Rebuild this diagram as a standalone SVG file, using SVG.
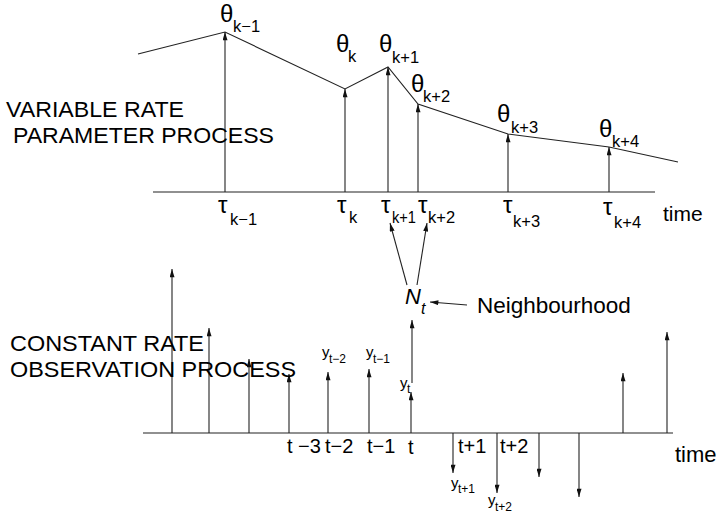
<svg xmlns="http://www.w3.org/2000/svg" width="719" height="515" viewBox="0 0 719 515">
<defs>
<marker id="ah" markerUnits="userSpaceOnUse" viewBox="0 0 10 6" refX="10" refY="3" markerWidth="9" markerHeight="5" orient="auto">
<path d="M0,0 L10,3 L0,6 z" fill="#111"/>
</marker>
</defs>
<style>
text{font-family:"Liberation Sans",Arial,sans-serif;fill:#000}
.big{font-size:22.5px}
.lab{font-size:21px}
.gr{font-size:24px}
.sub{font-size:16.5px}
.tl{font-size:20px}
.ys{font-size:15px}
.yss{font-size:12px}
.ln{stroke:#222;stroke-width:1.1;fill:none}
.ar{stroke:#222;stroke-width:1.1;fill:none;marker-end:url(#ah)}
</style>
<rect width="719" height="515" fill="#fff"/>

<g id="connectors">
<polyline class="ln" points="138,54 225,32 345,89 388,67 418,104 508,134 609,147 678,162"/>
<line class="ln" x1="153" y1="192" x2="655" y2="192"/>
<line class="ar" x1="225" y1="192" x2="225" y2="32"/>
<line class="ar" x1="345" y1="192" x2="345" y2="89"/>
<line class="ar" x1="388" y1="192" x2="388" y2="67"/>
<line class="ar" x1="418" y1="192" x2="418" y2="104"/>
<line class="ar" x1="508" y1="192" x2="508" y2="134"/>
<line class="ar" x1="609" y1="192" x2="609" y2="147"/>

<line class="ln" x1="143" y1="433" x2="673" y2="433"/>
<line class="ar" x1="172" y1="433" x2="172" y2="269"/>
<line class="ar" x1="209" y1="433" x2="209" y2="328"/>
<line class="ar" x1="249" y1="433" x2="249" y2="359"/>
<line class="ar" x1="289" y1="433" x2="289" y2="374"/>
<line class="ar" x1="328" y1="433" x2="328" y2="372"/>
<line class="ar" x1="369" y1="433" x2="369" y2="369"/>
<line class="ar" x1="411" y1="433" x2="411" y2="392"/>
<line class="ar" x1="623" y1="433" x2="623" y2="373"/>
<line class="ar" x1="667" y1="433" x2="667" y2="332"/>
<line class="ar" x1="453" y1="433" x2="453" y2="473"/>
<line class="ar" x1="497" y1="433" x2="497" y2="493"/>
<line class="ar" x1="539" y1="433" x2="539" y2="477"/>
<line class="ar" x1="579" y1="433" x2="579" y2="497"/>

<line class="ar" x1="412" y1="383" x2="412" y2="320"/>
<line class="ar" x1="407" y1="285" x2="390" y2="223"/>
<line class="ar" x1="417" y1="285" x2="427" y2="223"/>
<line class="ar" x1="467" y1="305" x2="430" y2="302"/>
</g>

<g id="title-variable">
<text class="big" x="6" y="117" textLength="178" lengthAdjust="spacingAndGlyphs">VARIABLE RATE</text>
<text class="big" x="13" y="143" textLength="261" lengthAdjust="spacingAndGlyphs">PARAMETER PROCESS</text>
</g>
<g id="title-constant">
<text class="big" x="10" y="351" textLength="194" lengthAdjust="spacingAndGlyphs">CONSTANT RATE</text>
<text class="big" x="10" y="377" textLength="286" lengthAdjust="spacingAndGlyphs">OBSERVATION PROCESS</text>
</g>

<g id="theta-labels">
<text class="gr" x="220" y="22">θ<tspan class="sub" x="233" y="32">k−1</tspan></text>
<text class="gr" x="336" y="52">θ<tspan class="sub" x="348" y="62">k</tspan></text>
<text class="gr" x="379" y="52">θ<tspan class="sub" x="392" y="63">k+1</tspan></text>
<text class="gr" x="411" y="92">θ<tspan class="sub" x="423" y="102">k+2</tspan></text>
<text class="gr" x="497" y="122">θ<tspan class="sub" x="511" y="133">k+3</tspan></text>
<text class="gr" x="599" y="137">θ<tspan class="sub" x="612" y="147">k+4</tspan></text>
</g>

<g id="tau-labels">
<text class="gr" x="218" y="213">τ<tspan class="sub" x="230" y="225">k−1</tspan></text>
<text class="gr" x="337" y="213">τ<tspan class="sub" x="349" y="223">k</tspan></text>
<text class="gr" x="381" y="213">τ<tspan class="sub" x="392" y="223" textLength="24" lengthAdjust="spacingAndGlyphs">k+1</tspan></text>
<text class="gr" x="418" y="213">τ<tspan class="sub" x="428" y="223">k+2</tspan></text>
<text class="gr" x="503" y="213">τ<tspan class="sub" x="513" y="227">k+3</tspan></text>
<text class="gr" x="603" y="215">τ<tspan class="sub" x="614" y="228">k+4</tspan></text>
<text class="lab" x="663" y="221">time</text>
</g>

<g id="neighbourhood">
<text x="405" y="304" style="font-size:22px;font-style:italic">N<tspan x="421" y="314" style="font-size:16px">t</tspan></text>
<text x="477" y="313" style="font-size:22.5px">Neighbourhood</text>
</g>

<g id="t-labels">
<text class="tl" x="287" y="453">t −3</text>
<text class="tl" x="325" y="453">t−2</text>
<text class="tl" x="367" y="453">t−1</text>
<text class="tl" x="408" y="454">t</text>
<text class="tl" x="458" y="453">t+1</text>
<text class="tl" x="500" y="453">t+2</text>
<text x="675" y="462" style="font-size:22px">time</text>
</g>

<g id="y-labels">
<text class="ys" x="322" y="357">y<tspan class="yss" x="329" y="363">t−2</tspan></text>
<text class="ys" x="366" y="357">y<tspan class="yss" x="373" y="363">t−1</tspan></text>
<text class="ys" x="400" y="388">y<tspan class="yss" x="407" y="393">t</tspan></text>
<text class="ys" x="451" y="488">y<tspan class="yss" x="458" y="493">t+1</tspan></text>
<text class="ys" x="488" y="505">y<tspan class="yss" x="495" y="511">t+2</tspan></text>
</g>
</svg>
